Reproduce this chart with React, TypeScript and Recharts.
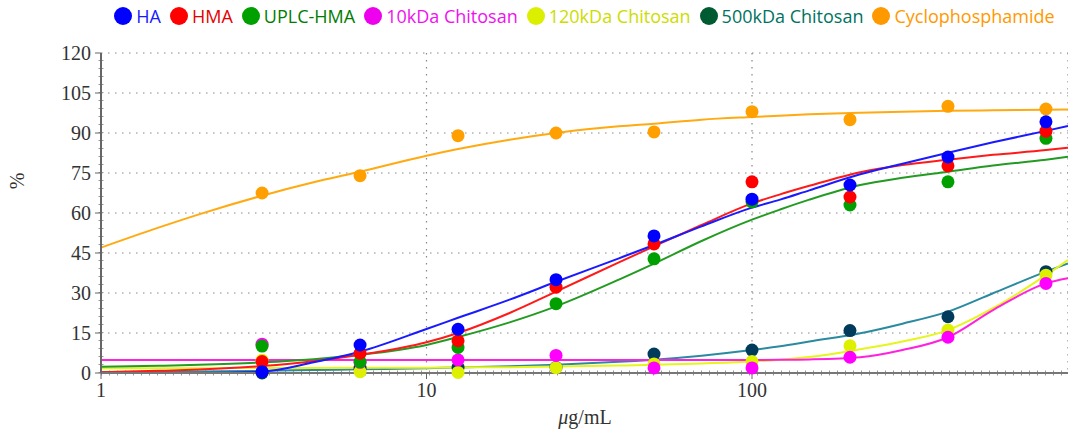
import React from 'react';
import { ComposedChart, Line, Scatter, XAxis, YAxis, CartesianGrid, Legend, ReferenceLine } from 'recharts';

// measured concentrations (µg/mL)
const concentrations = [3.125, 6.25, 12.5, 25, 50, 100, 200, 400, 800];
const haPoints = [0.5, 10.5, 16.4, 35, 51.4, 65.2, 70.5, 81, 94.2];
const hmaPoints = [4.3, 7.4, 12.1, 32.2, 48.4, 71.7, 66, 77.7, 90.7];
const uplcPoints = [10.1, 4.2, 9.6, 26, 42.8, 64.2, 63, 71.7, 88];
const chitosan10Points = [10.8, 4, 4.9, 6.6, 1.9, 1.9, 5.9, 13.4, 33.6];
const chitosan120Points = [4.8, 0.5, 0.2, 2, 3.4, 4.3, 10.2, 16.1, 36.7];
const chitosan500Points = [0, 1.8, 2.1, 2.1, 7.1, 8.6, 15.9, 21.1, 38];
const cycloPoints = [67.5, 74, 89, 90, 90.4, 98, 95, 100, 99];

// fitted curves
const curveX = [1, 1.5, 2, 3.125, 4.5, 6.25, 10, 12.5, 18, 25, 39, 50, 70, 100, 122, 150, 215, 290, 400, 550, 800, 935];
const haCurve = [0, 0, 0, 0.5, 4, 8, 16.5, 20.7, 27.5, 34.2, 43, 48, 55, 62, 65, 68.5, 74.5, 78.5, 82.6, 86.5, 90.8, 92.6];
const hmaCurve = [0.3, 0.8, 1.3, 2.6, 4.4, 6.8, 11.5, 15, 22.5, 30.5, 41.5, 47.5, 55.5, 63.6, 67, 70.2, 75.3, 78, 80, 81.8, 83.6, 84.5];
const uplcCurve = [2.3, 2.7, 3.1, 4, 5.2, 6.8, 10.5, 13.5, 19, 25, 35, 41, 49.5, 57.5, 61.3, 65, 70.5, 73.2, 75.5, 77.8, 80, 81.1];
const chitosan10Curve = [4.9, 4.9, 4.9, 4.9, 4.9, 4.9, 4.9, 4.9, 4.9, 4.9, 4.9, 4.9, 4.9, 4.9, 4.95, 5.1, 5.9, 8.6, 13.4, 23.6, 33.6, 35.5];
const chitosan120Curve = [1.8, 1.8, 1.8, 1.9, 1.9, 2, 2, 2.1, 2.2, 2.4, 2.8, 3.1, 3.6, 4.3, 5, 6, 8.9, 11.8, 16.1, 24.3, 36.7, 42.4];
const chitosan500Curve = [0.4, 0.5, 0.6, 0.8, 1.1, 1.4, 1.8, 2.1, 2.5, 3.1, 4.2, 5, 6.5, 8.6, 10, 11.8, 14.9, 18.5, 23, 29.9, 38, 41.1];
const cycloCurve = [47, 54.5, 59.5, 66.5, 71.5, 75.5, 81.5, 84, 87.5, 90, 92.5, 93.5, 95, 96, 96.5, 97, 97.6, 98, 98.3, 98.5, 98.7, 98.8];

const seriesNames = ['HA', 'HMA', 'UPLC-HMA', '10kDa Chitosan', '120kDa Chitosan', '500kDa Chitosan', 'Cyclophosphamide'];
const yTicks = [0, 15, 30, 45, 60, 75, 90, 105, 120];
const xTicks = [1, 10, 100];

const series = [
  { name: seriesNames[0], pts: haPoints, curve: haCurve, dot: '#0000ff', line: '#1a1aff', legendDot: '#0000ff', text: '#1a1aff' },
  { name: seriesNames[1], pts: hmaPoints, curve: hmaCurve, dot: '#ff0000', line: '#ff1a1a', legendDot: '#ff0000', text: '#e60000' },
  { name: seriesNames[2], pts: uplcPoints, curve: uplcCurve, dot: '#00a000', line: '#239b23', legendDot: '#00a000', text: '#007d00' },
  { name: seriesNames[3], pts: chitosan10Points, curve: chitosan10Curve, dot: '#ff00ff', line: '#ff22dd', legendDot: '#ee00ee', text: '#ee11ee' },
  { name: seriesNames[4], pts: chitosan120Points, curve: chitosan120Curve, dot: '#ddf000', line: '#e6f51a', legendDot: '#dcef00', text: '#ccdd00' },
  { name: seriesNames[5], pts: chitosan500Points, curve: chitosan500Curve, dot: '#003b5c', line: '#2a8aa0', legendDot: '#005a32', text: '#00735f' },
  { name: seriesNames[6], pts: cycloPoints, curve: cycloCurve, dot: '#ff9f00', line: '#ffaa11', legendDot: '#ff9900', text: '#ff9900' },
];

const makePts = (vals: number[]) => concentrations.map((x, i) => ({ x, y: vals[i] }));
const makeCurve = (vals: number[]) => curveX.map((x, i) => ({ x, y: vals[i] }));

const LegendContent = () => (
  <div style={{ display: 'flex', justifyContent: 'center', alignItems: 'center', gap: 9, fontFamily: '"Open Sans", sans-serif', fontSize: 18, whiteSpace: 'nowrap' }}>
    {series.map((s) => (
      <div key={s.name} style={{ display: 'flex', alignItems: 'center' }}>
        <span style={{ display: 'inline-block', width: 18, height: 18, borderRadius: 9, background: s.legendDot, marginRight: 4 }} />
        <span style={{ color: s.text, lineHeight: '22px' }}>{s.name}</span>
      </div>
    ))}
  </div>
);

export default function App() {
  const reversed = [...series].reverse();
  return (
    <div style={{ position: 'absolute', left: 0, top: 0, width: 1068, height: 436, background: '#fff' }}>
      <ComposedChart width={1068} height={436} margin={{ top: 53, right: 0, left: 0, bottom: 8 }}>
        <CartesianGrid stroke="#888" strokeDasharray="1.5 5.5" strokeWidth={1.2} />
        <XAxis
          dataKey="x"
          type="number"
          scale="log"
          domain={[1, 935]}
          ticks={xTicks}
          height={55}
          tickSize={6}
          tickMargin={4}
          axisLine={{ stroke: '#777', strokeWidth: 2 }}
          tickLine={{ stroke: '#666' }}
          tick={{ fill: '#333', fontSize: 20, fontFamily: '"Liberation Serif", "Times New Roman", serif' }}
          label={(props: any) => (
            <text x={585} y={424} textAnchor="middle" fill="#333" fontSize={20} fontFamily='"Liberation Serif", "Times New Roman", serif'>
              <tspan fontStyle="italic">μ</tspan>g/mL
            </text>
          )}
        />
        <YAxis
          dataKey="y"
          type="number"
          domain={[0, 120]}
          ticks={yTicks}
          width={101}
          tickSize={6}
          tickMargin={4}
          axisLine={{ stroke: '#666', strokeWidth: 2 }}
          tickLine={{ stroke: '#666' }}
          tick={{ fill: '#333', fontSize: 20, fontFamily: '"Liberation Serif", "Times New Roman", serif' }}
          label={(props: any) => (
            <text x={24} y={181} textAnchor="middle" fill="#333" fontSize={20} fontFamily='"Liberation Serif", "Times New Roman", serif' transform="rotate(-90 24 181)">
              %
            </text>
          )}
        />
        <ReferenceLine y={0} stroke="#999" strokeWidth={5} strokeDasharray="1 7" />
        <ReferenceLine x={1} stroke="#999" strokeWidth={5} strokeDasharray="1 7" />
        <Legend
          verticalAlign="middle"
          align="center"
          layout="horizontal"
          content={() => <LegendContent />}
          wrapperStyle={{ top: 5, left: 101, width: 967, height: 24 }}
        />
        {reversed.map((s) => (
          <Line
            key={'l' + s.name}
            data={makeCurve(s.curve)}
            dataKey="y"
            type="monotone"
            stroke={s.line}
            strokeWidth={2}
            dot={false}
            activeDot={false}
            isAnimationActive={false}
            legendType="none"
          />
        ))}
        {reversed.map((s) => (
          <Scatter
            key={'s' + s.name}
            data={makePts(s.pts)}
            dataKey="y"
            fill={s.dot}
            isAnimationActive={false}
            shape={(p: any) => <circle cx={p.cx} cy={p.cy} r={6.5} fill={s.dot} />}
          />
        ))}
      </ComposedChart>
    </div>
  );
}
